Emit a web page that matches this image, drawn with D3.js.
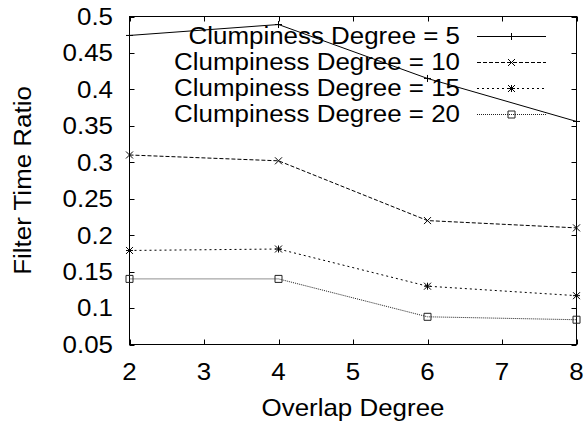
<!DOCTYPE html>
<html>
<head>
<meta charset="utf-8">
<script src="https://cdn.jsdelivr.net/npm/d3@7"></script>
<style>
  html, body { margin: 0; padding: 0; background: #fff; }
  svg text { font-family: "Liberation Sans", Arial, Helvetica, sans-serif; fill: #000; }
</style>
</head>
<body>
<svg id="chart" width="584" height="428"></svg>
<script>
// Overlap degree on the x axis
const overlap = [2, 4, 6, 8];

// Filter time ratio per clumpiness degree
const clump5  = [0.474, 0.489, 0.415, 0.356];
const clump10 = [0.310, 0.302, 0.220, 0.210];
const clump15 = [0.179, 0.181, 0.130, 0.117];
const clump20 = [0.140, 0.140, 0.088, 0.084];

const seriesNames = ["Clumpiness Degree = 5", "Clumpiness Degree = 10",
                     "Clumpiness Degree = 15", "Clumpiness Degree = 20"];

const xTicks = [2, 3, 4, 5, 6, 7, 8];
const yTicks = [0.05, 0.1, 0.15, 0.2, 0.25, 0.3, 0.35, 0.4, 0.45, 0.5];

const series = [
  { name: seriesNames[0], values: clump5,  dash: null,  marker: "plus",   color: "#000" },
  { name: seriesNames[1], values: clump10, dash: "4,2", marker: "cross",  color: "#000" },
  { name: seriesNames[2], values: clump15, dash: "2,3", marker: "star",   color: "#000" },
  { name: seriesNames[3], values: clump20, dash: "1,1", marker: "square", color: "#222" }
];

const svg = d3.select("#chart");
const m = { left: 129.5, right: 576.5, top: 16.5, bottom: 344.5 };

const x = d3.scaleLinear().domain([2, 8]).range([m.left, m.right]);
const y = d3.scaleLinear().domain([0.05, 0.5]).range([m.bottom, m.top]);

const fontSize = 24;
const stretch = 1.08;   // slightly wide lettering
const tickLen = 5;

// text placed at (px, py), widened horizontally about its anchor
function label(parent, px, py, str, anchor, dy, rotate) {
  const tr = `translate(${px},${py})` + (rotate ? ` rotate(${rotate})` : "") + ` scale(${stretch},1)`;
  return parent.append("text")
    .attr("transform", tr)
    .attr("dy", dy || 0)
    .attr("text-anchor", anchor)
    .attr("font-size", fontSize)
    .text(str);
}

// plot frame
svg.append("rect")
  .attr("x", m.left).attr("y", m.top)
  .attr("width", m.right - m.left).attr("height", m.bottom - m.top)
  .attr("fill", "none").attr("stroke", "#000").attr("stroke-width", 1);

// inward tick marks on all four sides (mirrored)
const ticks = svg.append("g").attr("stroke", "#000").attr("stroke-width", 1);
xTicks.forEach(t => {
  const px = Math.round(x(t)) + 0.5;
  ticks.append("line").attr("x1", px).attr("x2", px).attr("y1", m.bottom).attr("y2", m.bottom - tickLen);
  ticks.append("line").attr("x1", px).attr("x2", px).attr("y1", m.top).attr("y2", m.top + tickLen);
});
yTicks.forEach(t => {
  const py = Math.round(y(t)) + 0.5;
  ticks.append("line").attr("x1", m.left).attr("x2", m.left + tickLen).attr("y1", py).attr("y2", py);
  ticks.append("line").attr("x1", m.right).attr("x2", m.right - tickLen).attr("y1", py).attr("y2", py);
});

// tick labels
const xl = svg.append("g");
xTicks.forEach(t => label(xl, x(t), 380, String(t), "middle"));

const yl = svg.append("g");
yTicks.forEach(t => label(yl, 113, y(t), String(+t.toFixed(2)), "end", "0.35em"));

// axis titles
label(svg, (m.left + m.right) / 2, 416, "Overlap Degree", "middle");
label(svg, 31, (m.top + m.bottom) / 2, "Filter Time Ratio", "middle", 0, -90);

// marker drawing
function drawMarker(g, type, cx, cy, color) {
  const s = 3.5;
  const p = g.append("path").attr("fill", "none").attr("stroke", color).attr("stroke-width", 1);
  if (type === "plus") {
    p.attr("d", `M${cx - s},${cy}H${cx + s}M${cx},${cy - s}V${cy + s}`);
  } else if (type === "cross") {
    p.attr("d", `M${cx - s},${cy - s}L${cx + s},${cy + s}M${cx - s},${cy + s}L${cx + s},${cy - s}`);
  } else if (type === "star") {
    p.attr("d", `M${cx - s},${cy}H${cx + s}M${cx},${cy - s}V${cy + s}` +
                `M${cx - s},${cy - s}L${cx + s},${cy + s}M${cx - s},${cy + s}L${cx + s},${cy - s}`);
  } else if (type === "square") {
    p.attr("d", `M${cx - s},${cy - s}h${2 * s}v${2 * s}h${-2 * s}Z`);
  }
}

const line = d3.line().x(d => x(d[0])).y(d => y(d[1]));

series.forEach(s => {
  const pts = overlap.map((o, i) => [o, s.values[i]]);
  const g = svg.append("g");
  g.append("path").datum(pts)
    .attr("d", line)
    .attr("fill", "none").attr("stroke", s.color).attr("stroke-width", 1)
    .attr("stroke-dasharray", s.dash);
  pts.forEach(p => drawMarker(g, s.marker, x(p[0]), y(p[1]), s.color));
});

// legend (top right, inside the plot)
const legendRowY = [36, 62, 88, 114];
series.forEach((s, i) => {
  const ly = legendRowY[i];
  const g = svg.append("g");
  label(g, 460, ly, s.name, "end", "0.35em");
  g.append("line")
    .attr("x1", 477).attr("x2", 546).attr("y1", ly + 0.5).attr("y2", ly + 0.5)
    .attr("stroke", s.color).attr("stroke-width", 1)
    .attr("stroke-dasharray", s.dash);
  drawMarker(g, s.marker, 511.5, ly + 0.5, s.color);
});
</script>
</body>
</html>
